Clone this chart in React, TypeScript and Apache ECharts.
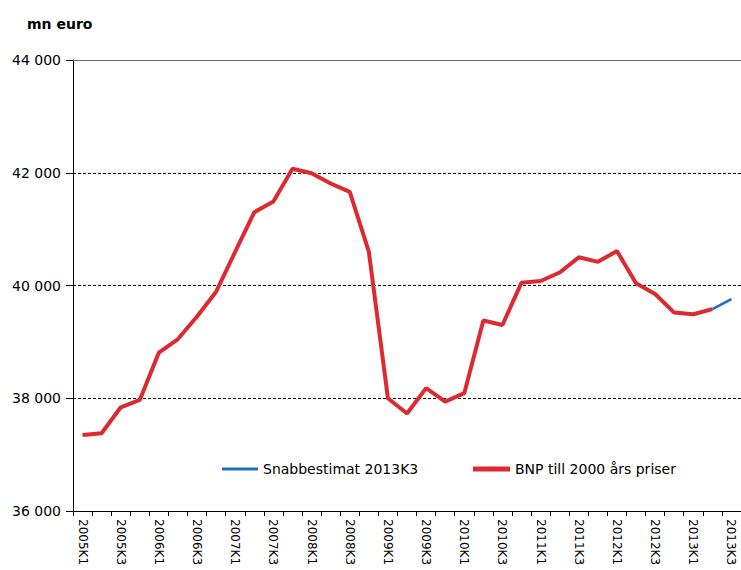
import React, { useEffect, useRef } from "react";
import * as echarts from "echarts";

const categories: string[] = [
  "2005K1", "2005K2", "2005K3", "2005K4",
  "2006K1", "2006K2", "2006K3", "2006K4",
  "2007K1", "2007K2", "2007K3", "2007K4",
  "2008K1", "2008K2", "2008K3", "2008K4",
  "2009K1", "2009K2", "2009K3", "2009K4",
  "2010K1", "2010K2", "2010K3", "2010K4",
  "2011K1", "2011K2", "2011K3", "2011K4",
  "2012K1", "2012K2", "2012K3", "2012K4",
  "2013K1", "2013K2", "2013K3",
];

const bnpValues: (number | null)[] = [
  37350, 37380, 37840, 37970,
  38810, 39050, 39450, 39890,
  40600, 41300, 41490, 42070,
  41990, 41810, 41660, 40600,
  38000, 37730, 38180, 37940,
  38090, 39380, 39300, 40050,
  40080, 40230, 40500, 40420,
  40610, 40040, 39850, 39520,
  39490, 39580, null,
];

const snabbValues: (number | null)[] = [
  null, null, null, null,
  null, null, null, null,
  null, null, null, null,
  null, null, null, null,
  null, null, null, null,
  null, null, null, null,
  null, null, null, null,
  null, null, null, null,
  null, 39580, 39760,
];

const yMin = 36000;
const yMax = 44000;
const yStep = 2000;

const SNABB = "Snabbestimat 2013K3";
const BNP = "BNP till 2000 års priser";

const FONT = "DejaVu Sans";
const RED = "#dc2b30";
const BLUE = "#1f6fbf";

export default function App() {
  const ref = useRef<HTMLDivElement>(null);

  useEffect(() => {
    if (!ref.current) return;
    const chart = echarts.init(ref.current, undefined, { renderer: "svg" });
    chart.setOption({
      animation: false,
      backgroundColor: "#ffffff",
      title: {
        text: "mn euro",
        left: 22,
        top: 12,
        textStyle: { fontFamily: FONT, fontSize: 14, fontWeight: "bold", color: "#000" },
      },
      legend: [
        {
          data: [{ name: SNABB, icon: "rect" }],
          left: 217,
          top: 457,
          itemWidth: 36,
          itemHeight: 3,
          itemStyle: { color: BLUE },
          textStyle: { fontFamily: FONT, fontSize: 14, color: "#000" },
        },
        {
          data: [{ name: BNP, icon: "rect" }],
          left: 468,
          top: 457,
          itemWidth: 37,
          itemHeight: 5,
          itemStyle: { color: RED },
          textStyle: { fontFamily: FONT, fontSize: 14, color: "#000" },
        },
      ],
      grid: { left: 73, right: 0, top: 60, bottom: 59, containLabel: false },
      xAxis: [
        {
          type: "category",
          data: categories,
          boundaryGap: true,
          axisLine: { show: true, lineStyle: { color: "#000", width: 1 } },
          axisTick: { show: true, interval: 0, length: 5, alignWithLabel: false, lineStyle: { color: "#000" } },
          axisLabel: {
            interval: 1,
            rotate: -90,
            margin: 8,
            fontFamily: FONT,
            fontSize: 12,
            color: "#000",
          },
          splitLine: { show: false },
        },
        {
          type: "category",
          data: categories,
          position: "top",
          axisLine: { show: true, lineStyle: { color: "#666", width: 1 } },
          axisTick: { show: false },
          axisLabel: { show: false },
          splitLine: { show: false },
        },
      ],
      yAxis: {
        type: "value",
        min: yMin,
        max: yMax,
        interval: yStep,
        axisLine: { show: true, lineStyle: { color: "#000", width: 1 } },
        axisTick: { show: true, length: 7, lineStyle: { color: "#000" } },
        axisLabel: {
          margin: 12,
          fontFamily: FONT,
          fontSize: 14,
          color: "#000",
          formatter: (v: number) => {
            const s = String(v);
            return s.slice(0, s.length - 3) + " " + s.slice(s.length - 3);
          },
        },
        splitLine: {
          show: true,
          showMinLine: false,
          showMaxLine: false,
          lineStyle: { color: "#000", type: [3, 2], width: 1 },
        },
      },
      series: [
        {
          name: BNP,
          type: "line",
          data: bnpValues,
          symbol: "none",
          showSymbol: false,
          connectNulls: false,
          lineStyle: { color: RED, width: 4 },
          itemStyle: { color: RED },
          z: 2,
        },
        {
          name: SNABB,
          type: "line",
          data: snabbValues,
          symbol: "none",
          showSymbol: false,
          connectNulls: false,
          lineStyle: { color: BLUE, width: 2.5 },
          itemStyle: { color: BLUE },
          z: 3,
        },
      ],
    });
    return () => chart.dispose();
  }, []);

  return (
    <div
      ref={ref}
      style={{ position: "absolute", left: 0, top: 0, width: 741, height: 570, background: "#fff" }}
    />
  );
}
